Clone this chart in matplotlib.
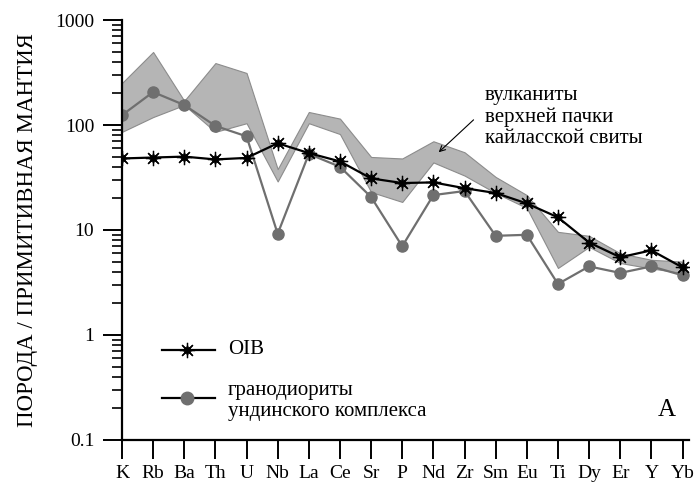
import matplotlib.pyplot as plt
from matplotlib.ticker import LogLocator, NullFormatter, FixedLocator
import numpy as np

plt.rcParams['font.family'] = ['Liberation Serif', 'DejaVu Serif']

# элементы в порядке спайдер-диаграммы
elementy = ['K', 'Rb', 'Ba', 'Th', 'U', 'Nb', 'La', 'Ce', 'Sr', 'P',
            'Nd', 'Zr', 'Sm', 'Eu', 'Ti', 'Dy', 'Er', 'Y', 'Yb']

# OIB, нормировано на примитивную мантию
oib = [48, 49, 50, 47, 48.6, 67, 54, 45, 31, 28,
       28.4, 25, 22.5, 17.9, 13.2, 7.6, 5.5, 6.4, 4.4]

# гранодиориты ундинского комплекса
granodiority = [124, 206, 155, 98, 78, 9.2, 53, 40, 20.6, 7.0,
                21.5, 23.5, 8.8, 9.0, 3.06, 4.5, 3.9, 4.5, 3.7]

# поле вулканитов верхней пачки кайласской свиты (верх / низ)
pole_verh = [251, 496, 170, 389, 313, 38, 133, 115, 49.6, 48,
             70, 55, 32, 21.5, 9.6, 8.8, 6.0, 5.2, 5.0]
pole_niz = [86, 119, 155, 86, 104, 29, 104, 82, 23, 18.5,
            44, 33, 22.5, 16.2, 4.35, 6.9, 4.85, 4.3, 3.9]

x = np.arange(len(elementy))

SERYJ = '#6f6f6f'


def zvezda(ax, xs, ys):
    # звёздочка OIB: лучи + залитый центр
    ax.plot(xs, ys, linestyle='none', marker=(8, 2, 0), markersize=11,
            markeredgecolor='black', markeredgewidth=0.9, zorder=6)
    ax.plot(xs, ys, linestyle='none', marker=(8, 1, 0), markersize=6.5,
            color='black', zorder=6)


fig = plt.figure(figsize=(6.95, 4.88), dpi=100)
ax = fig.add_axes([0.1755, 0.0984, 0.8155, 0.8606])

ax.fill_between(x, pole_niz, pole_verh, facecolor='#b5b5b5',
                edgecolor='#8c8c8c', linewidth=0.8, zorder=1)

ax.plot(x, granodiority, color=SERYJ, linewidth=1.6, marker='o',
        markersize=8, markerfacecolor=SERYJ, markeredgecolor=SERYJ,
        zorder=2)

ax.plot(x, oib, color='black', linewidth=1.6, zorder=3)
zvezda(ax, x, oib)

ax.set_yscale('log')
ax.set_ylim(0.1, 1000)
ax.set_xlim(0, 18.2)

ax.yaxis.set_major_locator(FixedLocator([0.1, 1, 10, 100, 1000]))
ax.set_yticklabels(['0.1', '1', '10', '100', '1000'])
ax.yaxis.set_minor_locator(LogLocator(base=10, subs=np.arange(2, 10)))
ax.yaxis.set_minor_formatter(NullFormatter())

ax.set_xticks(x)
ax.set_xticklabels(elementy)

for s in ['top', 'right']:
    ax.spines[s].set_visible(False)
for s in ['left', 'bottom']:
    ax.spines[s].set_linewidth(1.6)

ax.tick_params(axis='both', which='major', direction='out', length=14,
               width=1.4, labelsize=14)
ax.tick_params(axis='y', which='major', pad=6)
ax.tick_params(axis='y', which='minor', direction='out', length=7, width=1.2)
ax.tick_params(axis='x', pad=4)

ax.set_ylabel('ПОРОДА / ПРИМИТИВНАЯ МАНТИЯ', fontsize=16.5, labelpad=12)

# легенда вручную
ax.plot([1.3, 3.0], [0.72, 0.72], color='black', linewidth=1.6, zorder=5)
zvezda(ax, [2.1], [0.72])
ax.text(3.4, 0.72, 'OIB', fontsize=15, va='center', ha='left')

ax.plot([1.3, 3.0], [0.251, 0.251], color='black', linewidth=1.6, zorder=5)
ax.plot([2.1], [0.251], linestyle='none', marker='o', markersize=9,
        color=SERYJ, zorder=6)
ax.text(3.4, 0.235, 'гранодиориты\nундинского комплекса', fontsize=15,
        va='center', ha='left', linespacing=1.1)

ax.text(11.65, 119, 'вулканиты\nверхней пачки\nкайласской свиты',
        fontsize=15, ha='left', va='center', linespacing=1.15)
ax.annotate('', xy=(10.17, 55), xytext=(11.29, 112),
            arrowprops=dict(arrowstyle='->', color='black', linewidth=0.8,
                            shrinkA=0, shrinkB=0))

ax.text(17.5, 0.195, 'A', fontsize=18, ha='center', va='center')

fig.savefig('out.png', dpi=100)
